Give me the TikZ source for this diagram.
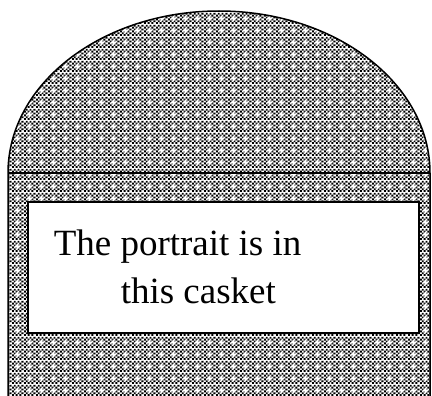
\documentclass[tikz,border=0pt]{standalone}
\usepackage{fontspec}
\setmainfont{Liberation Serif}
\usetikzlibrary{patterns}
\pgfdeclarepatterninherentlycolored{casketdots}{\pgfpointorigin}{\pgfqpoint{12pt}{12pt}}{\pgfqpoint{12pt}{12pt}}{%
	\pgfsetfillcolor{white}%
	\pgfpathrectangle{\pgfpointorigin}{\pgfqpoint{12pt}{12pt}}\pgfusepath{fill}%
	\pgfsetfillcolor{black}%
	\foreach \i in {0,...,5}{\foreach \j in {0,...,5}{%
		\pgfmathtruncatemacro\odd{mod(\i+\j,2)}%
		\ifnum\odd=0
			\pgfpathrectangle{\pgfpoint{2pt*\i}{2pt*\j}}{\pgfqpoint{2pt}{2pt}}\pgfusepath{fill}%
		\fi}}%
	\pgfsetfillcolor{white}%
	\pgfpathrectangle{\pgfqpoint{3pt}{5pt}}{\pgfqpoint{6pt}{2pt}}%
	\pgfpathrectangle{\pgfqpoint{5pt}{3pt}}{\pgfqpoint{2pt}{6pt}}%
	\pgfusepath{fill}}
\begin{document}
\begin{tikzpicture}[x=1pt,y=-1pt,line width=1.5pt]
	\useasboundingbox (0,0) rectangle (432,396);
	\coordinate (bl) at (8,396);
	\coordinate (ml) at (8,173);
	\coordinate (mr) at (430,173);
	\coordinate (br) at (430,396);
	\fill[pattern=casketdots] (bl) -- (ml) arc (180:360:211 and 162) -- (br) -- cycle;
	\draw (bl) -- (ml) arc (180:360:211 and 162) -- (br);
	\draw (ml) -- (mr);
	\node[draw, fill=white, line width=2pt, inner sep=0, minimum width=391pt, minimum height=131pt, anchor=north west] (plaque) at (27,201) {};
	\node[anchor=base west, inner sep=0, font=\fontsize{37}{48}\selectfont] (line1) at (53,255) {The portrait is in};
	\node[anchor=base west, inner sep=0, font=\fontsize{37}{48}\selectfont] (line2) at (120,303) {this casket};
\end{tikzpicture}
\end{document}
